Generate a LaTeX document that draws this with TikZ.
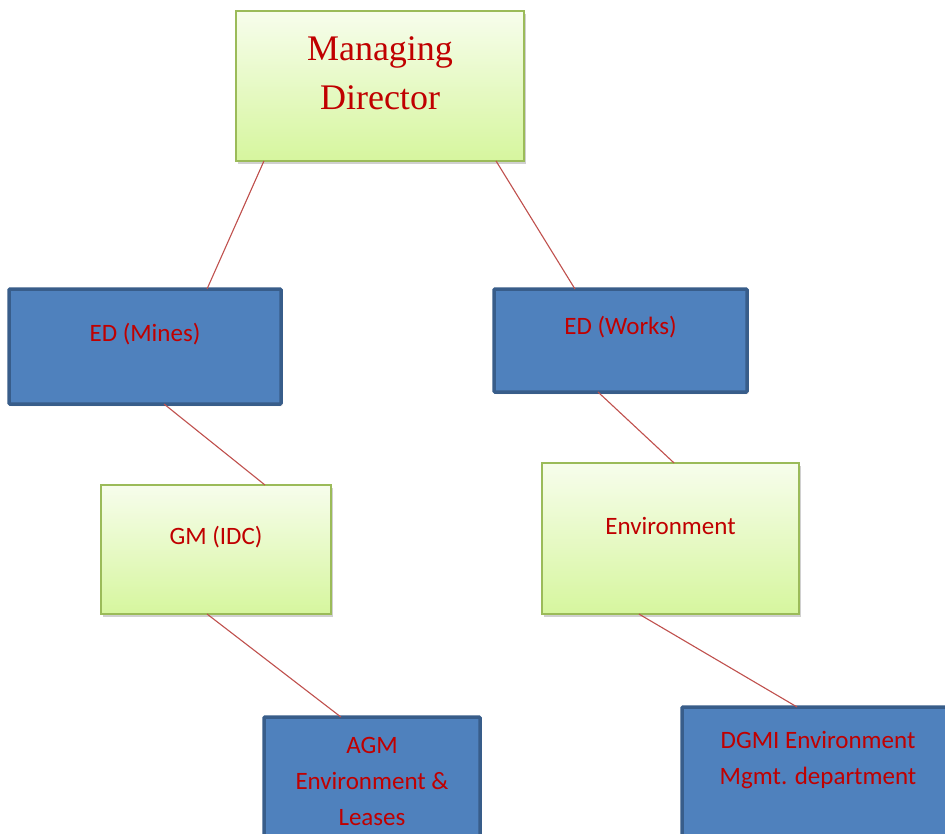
\documentclass[tikz,border=0pt]{standalone}
\usepackage{fontspec}
\setmainfont{Carlito}
\newfontfamily\serifmd{Liberation Serif}
\usetikzlibrary{calc,shadows}
\definecolor{txtred}{RGB}{192,0,0}
\definecolor{linkred}{RGB}{192,80,77}
\definecolor{bluefill}{RGB}{79,129,189}
\definecolor{blueedge}{RGB}{56,93,138}
\definecolor{greentop}{RGB}{247,253,236}
\definecolor{greenbot}{RGB}{214,246,158}
\definecolor{greenedge}{RGB}{155,187,89}
\tikzset{
  greenbox/.style={rectangle, inner sep=0pt, outer sep=0pt, draw=greenedge, line width=1.5pt,
    top color=greentop, bottom color=greenbot,
    drop shadow={shadow xshift=2pt, shadow yshift=-2.5pt, opacity=0.3, fill=black!60}},
  bluebox/.style={rectangle, inner sep=0pt, outer sep=0pt, draw=blueedge, line width=3.5pt,
    fill=bluefill, rounded corners=1pt,
    drop shadow={shadow xshift=1.5pt, shadow yshift=-2pt, opacity=0.25, fill=black!60}},
  lbl/.style={text=txtred, align=center, inner sep=0pt, font=\fontsize{25}{36}\selectfont},
  link/.style={draw=linkred, line width=1.1pt}
}
\begin{document}
\begin{tikzpicture}[x=1pt,y=-1pt]
\clip (0,0) rectangle (945,833);
\fill[white] (0,0) rectangle (945,833);
% boxes
\node[greenbox, minimum width=288, minimum height=150] (md) at (380,86) {};
\node[bluebox, minimum width=272, minimum height=115] (edm) at (145,346.5) {};
\node[bluebox, minimum width=253, minimum height=103] (edw) at (620.5,340.5) {};
\node[greenbox, minimum width=230, minimum height=129] (gm) at (216,549.5) {};
\node[greenbox, minimum width=257, minimum height=151] (env) at (670.5,538.5) {};
\node[bluebox, minimum width=216, minimum height=153] (agm) at (372,793.5) {};
\node[bluebox, minimum width=272, minimum height=163] (dgmi) at (818,788.5) {};
% texts
\node[lbl, font=\serifmd\fontsize{36}{49}\selectfont] (mdt) at (380,73) {Managing\\Director};
\node[lbl] (edmt) at (145,334) {ED (Mines)};
\node[lbl] (edwt) at (620.5,327) {ED (Works)};
\node[lbl] (gmt) at (216,537) {GM (IDC)};
\node[lbl] (envt) at (670.5,526) {Environment};
\node[lbl] (agmt) at (372,781) {AGM\\Environment \&\\Leases};
\node[lbl] (dgmit) at (818,760) {DGMI Environment\\Mgmt. department};
% connectors
\draw[link] ($(md.south west)!0.097!(md.south east)$) -- ($(edm.north west)!0.728!(edm.north east)$);
\draw[link] ($(md.south west)!0.903!(md.south east)$) -- ($(edw.north west)!0.320!(edw.north east)$);
\draw[link] ($(edm.south west)!0.570!(edm.south east)$) -- ($(gm.north west)!0.713!(gm.north east)$);
\draw[link] ($(edw.south west)!0.411!(edw.south east)$) -- ($(env.north west)!0.514!(env.north east)$);
\draw[link] ($(gm.south west)!0.461!(gm.south east)$) -- ($(agm.north west)!0.356!(agm.north east)$);
\draw[link] ($(env.south west)!0.377!(env.south east)$) -- ($(dgmi.north west)!0.423!(dgmi.north east)$);
\end{tikzpicture}
\end{document}
